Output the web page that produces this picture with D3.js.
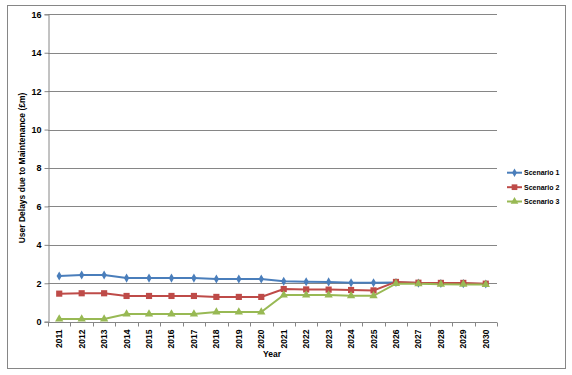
<!DOCTYPE html>
<html><head><meta charset="utf-8">
<script src="https://cdn.jsdelivr.net/npm/d3@7"></script>
<style>body{margin:0;background:#fff}svg{display:block}text{font-family:"Liberation Sans",Arial,sans-serif;font-weight:bold;fill:#000}</style>
</head><body><svg id="c" width="572" height="375"></svg>
<script>
const years = ["2011","2012","2013","2014","2015","2016","2017","2018","2019","2020","2021","2022","2023","2024","2025","2026","2027","2028","2029","2030"];
const scenario1 = [2.38,2.43,2.43,2.27,2.27,2.27,2.27,2.22,2.22,2.22,2.10,2.08,2.07,2.03,2.03,2.04,2.01,1.99,1.98,1.96];
const scenario2 = [1.46,1.48,1.48,1.34,1.34,1.34,1.34,1.29,1.29,1.29,1.70,1.68,1.67,1.65,1.63,2.07,2.03,2.02,2.02,1.98];
const scenario3 = [0.14,0.14,0.14,0.40,0.40,0.40,0.40,0.50,0.50,0.50,1.39,1.39,1.39,1.35,1.35,1.98,1.97,1.95,1.94,1.93];
const seriesNames = ["Scenario 1","Scenario 2","Scenario 3"];
const yTicks = [0,2,4,6,8,10,12,14,16];
const colors = ["#4A7EBB","#BE4B48","#98B954"];
const shapes = [d3.symbolDiamond, d3.symbolSquare, d3.symbolTriangle];
const sizes = [24, 38, 30];

const svg = d3.select("#c");
svg.append("rect").attr("x",7.5).attr("y",5.5).attr("width",558).attr("height",363)
  .attr("fill","#fff").attr("stroke","#868686").attr("stroke-width",1);

const L=48, R=497, T=14.3, B=321.7;
const x = d3.scaleBand().domain(years).range([L,R]);
const y = d3.scaleLinear().domain([0,16]).range([B,T]);

svg.append("g").selectAll("line").data(yTicks.filter(d=>d>0)).join("line")
  .attr("x1",L).attr("x2",R).attr("y1",d=>Math.round(y(d))+0.5).attr("y2",d=>Math.round(y(d))+0.5)
  .attr("stroke","#868686").attr("stroke-width",1);

const ya = svg.append("g").attr("transform",`translate(${L+0.5},0)`)
  .call(d3.axisLeft(y).tickValues(yTicks).tickSize(4).tickPadding(3).tickFormat(d3.format("d")));
ya.select(".domain").attr("stroke","#868686");
ya.selectAll(".tick line").attr("stroke","#868686");
ya.selectAll("text").attr("font-size","9px").attr("font-family","Liberation Sans, Arial").attr("font-weight","bold");

const xa = svg.append("g").attr("transform",`translate(0,${Math.round(B)+0.5})`);
xa.append("line").attr("x1",L).attr("x2",R).attr("stroke","#868686");
xa.selectAll("line.t").data(years.concat(["end"])).join("line").attr("class","t")
  .attr("x1",(d,i)=>Math.round(L+i*x.bandwidth())+0.5).attr("x2",(d,i)=>Math.round(L+i*x.bandwidth())+0.5)
  .attr("y1",0).attr("y2",4).attr("stroke","#868686");
xa.selectAll("text").data(years).join("text")
  .attr("transform",d=>`translate(${x(d)+x.bandwidth()/2+3},${7}) rotate(-90)`)
  .attr("text-anchor","end").attr("font-size","8.5px").text(d=>d);

svg.append("text").attr("x",272).attr("y",357).attr("text-anchor","middle").attr("font-size","8.5px").text("Year");
svg.append("text").attr("transform","translate(25,168) rotate(-90)").attr("text-anchor","middle")
  .attr("font-size","8.5px").text("User Delays due to Maintenance (£m)");

const allSeries = [scenario1, scenario2, scenario3];
const line = d3.line().x((d,i)=>x(years[i])+x.bandwidth()/2).y(d=>y(d));
allSeries.forEach((s,k)=>{
  svg.append("path").datum(s).attr("d",line).attr("fill","none").attr("stroke",colors[k]).attr("stroke-width",2);
});
allSeries.forEach((s,k)=>{
  svg.append("g").selectAll("path").data(s).join("path")
    .attr("d",d3.symbol().type(shapes[k]).size(sizes[k]))
    .attr("transform",(d,i)=>`translate(${x(years[i])+x.bandwidth()/2},${y(d)})`)
    .attr("fill",colors[k]);
});

const lg = svg.append("g");
const ly = [172.7,187.2,201.5];
seriesNames.forEach((n,k)=>{
  lg.append("line").attr("x1",507).attr("x2",522).attr("y1",ly[k]).attr("y2",ly[k]).attr("stroke",colors[k]).attr("stroke-width",2);
  lg.append("path").attr("d",d3.symbol().type(shapes[k]).size(sizes[k]*0.85)).attr("transform",`translate(514.5,${ly[k]})`).attr("fill",colors[k]);
  lg.append("text").attr("x",524).attr("y",ly[k]+2.5).attr("font-size","7px").text(n);
});
</script></body></html>
